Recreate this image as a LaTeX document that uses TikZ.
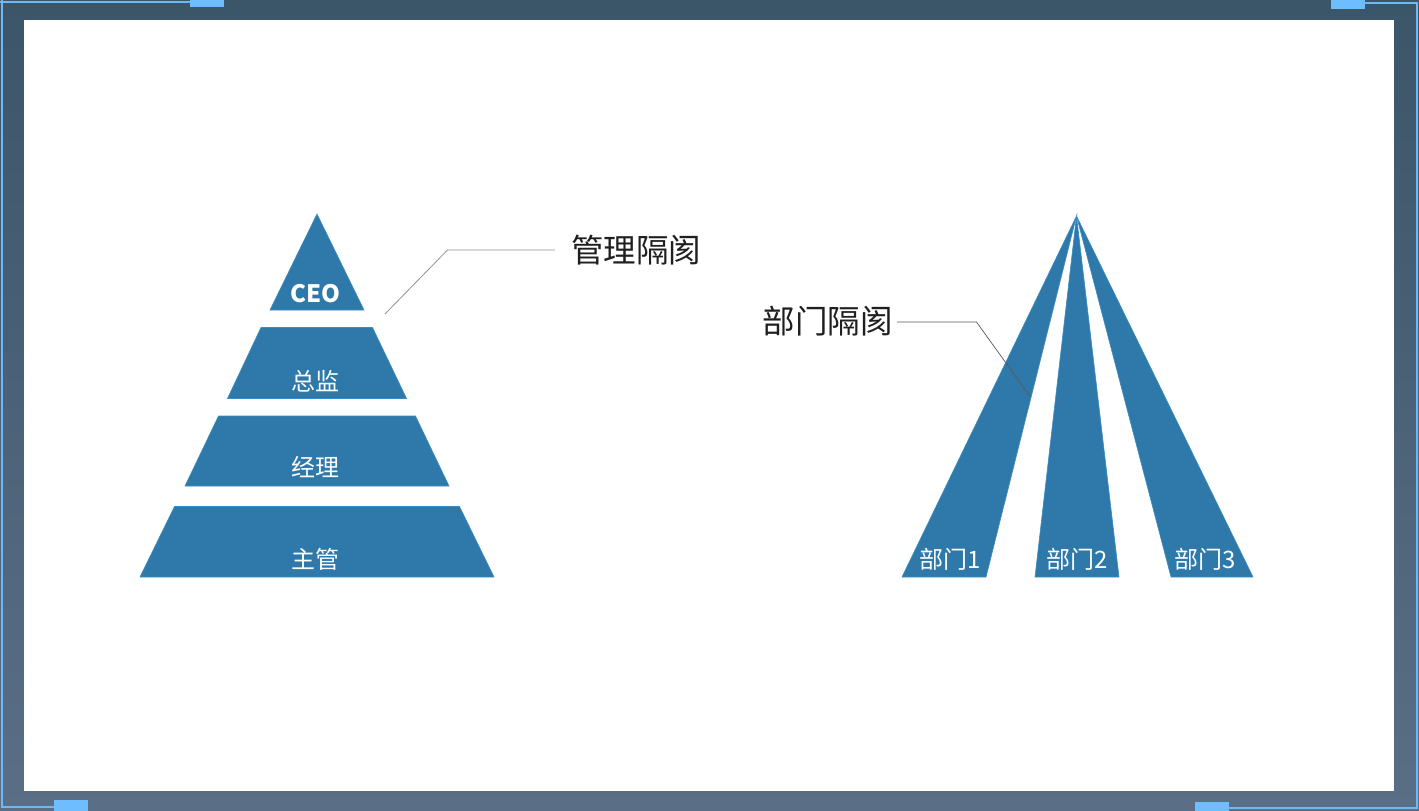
\documentclass[tikz,border=0pt]{standalone}
\usepackage{fontspec}
\setmainfont{Noto Sans CJK SC}
\definecolor{pblue}{HTML}{2E79A9}
\definecolor{pedge}{HTML}{3A8DC4}
\definecolor{bgtop}{HTML}{3B5569}
\definecolor{bgbot}{HTML}{5A6F86}
\definecolor{fline}{HTML}{6DB8F5}
\definecolor{fblock}{HTML}{6EBEFF}
\begin{document}
\begin{tikzpicture}[x=1pt,y=-1pt,
  tier/.style={fill=pblue, draw=pedge, line width=0.6pt, line join=miter},
  lbl/.style={text=white, font=\fontsize{24}{27}\selectfont, inner sep=0pt},
  callout/.style={font=\fontsize{32.5}{36}\selectfont, text=black!88, inner sep=0pt},
  leaderA/.style={draw=gray!85, line width=0.8pt},
  leaderB/.style={draw=black!65, line width=0.7pt},
  frameline/.style={draw=fline, line width=2pt},
  frameblock/.style={fill=fblock}]
\useasboundingbox (0,0) rectangle (1419,811);
% background
\shade[top color=bgtop, bottom color=bgbot] (0,0) rectangle (1419,811);
\fill[white] (24,20) rectangle (1394,791);
% frame accents
\draw[frameline] (1.5,0) -- (1.5,807) -- (54,807);
\draw[frameline] (0,1.5) -- (190,1.5);
\fill[frameblock] (190,0) rectangle (224,7);
\fill[frameblock] (54,800) rectangle (88,811);
\draw[frameline] (1365,2.5) -- (1416.5,2.5) -- (1416.5,808) -- (1229,808);
\fill[frameblock] (1331,0) rectangle (1365,9);
\fill[frameblock] (1195,802) rectangle (1229,811);

% pyramid
\fill[tier] (317,214) -- (364,310) -- (270,310) -- cycle;
\fill[tier] (261,327.5) -- (372.5,327.5) -- (406.5,398.5) -- (227.5,398.5) -- cycle;
\fill[tier] (218.5,416) -- (415.5,416) -- (449,486) -- (185,486) -- cycle;
\fill[tier] (174.5,506.5) -- (459.5,506.5) -- (494,577) -- (140,577) -- cycle;
\node[lbl, font=\fontsize{24}{27}\selectfont\bfseries] (ceo) at (315.5,293.5) {CEO};
\node[lbl] (zongjian) at (315.5,381) {总监};
\node[lbl] (jingli) at (315.5,467) {经理};
\node[lbl] (zhuguan) at (315.5,559) {主管};

% management callout
\node[callout, anchor=west] (mgmt) at (571,250) {管理隔阂};
\coordinate (mgmtTip) at (385,314);
\coordinate (mgmtBend) at (447.5,250);
\draw[leaderA] (mgmtTip) -- (mgmtBend) -- ([xshift=-16pt]mgmt.west);

% fans
\coordinate (apex) at (1076.5,216);
\fill[tier] (apex) -- (986,577) -- (902,577) -- cycle;
\fill[tier] (apex) -- (1119,577) -- (1035,577) -- cycle;
\fill[tier] (apex) -- (1253,577) -- (1171,577) -- cycle;
\node[lbl] (dept1) at (950,559) {部门1};
\node[lbl] (dept2) at (1077,559) {部门2};
\node[lbl] (dept3) at (1205,559) {部门3};

% department callout
\node[callout, anchor=east] (dept) at (893,321) {部门隔阂};
\coordinate (deptBend) at (976.5,322);
\coordinate (deptTip) at (1030,396.5);
\draw[leaderB] ([xshift=4pt]dept.east |- deptBend) -- (deptBend) -- (deptTip);
\end{tikzpicture}
\end{document}
